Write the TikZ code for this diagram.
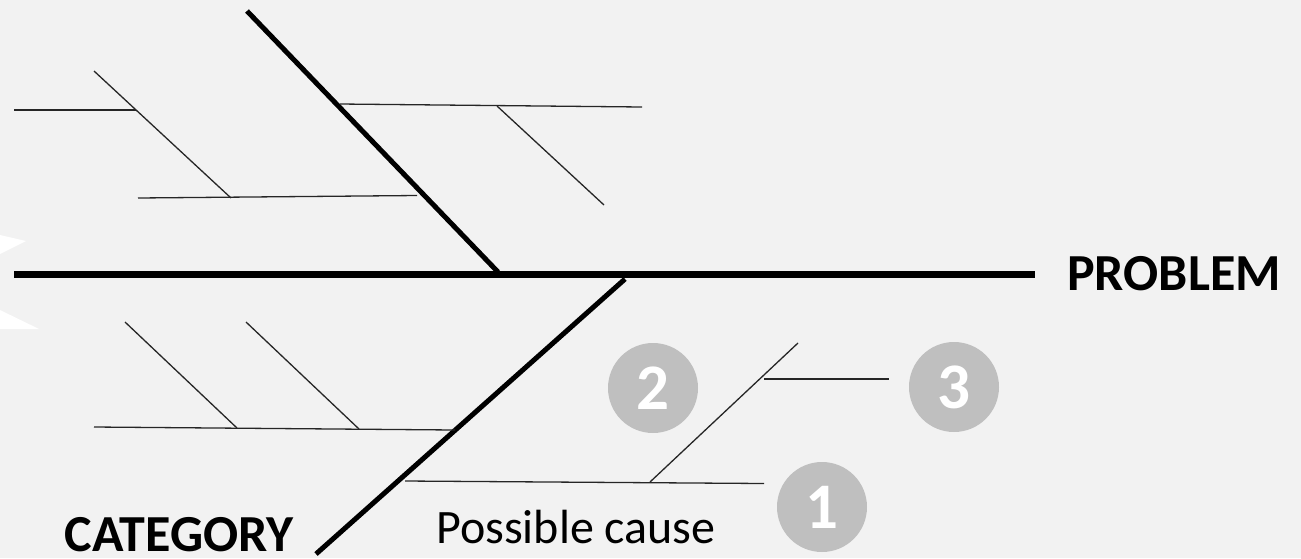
\documentclass[tikz,border=0pt]{standalone}
\usepackage{fontspec}
\setmainfont{Carlito}
\definecolor{bg}{HTML}{F2F2F2}
\definecolor{circ}{HTML}{BFBFBF}
\begin{document}
\begin{tikzpicture}[x=1pt,y=-1pt,
  spine/.style={line width=7pt},
  bone/.style={line width=5pt},
  twig/.style={line width=1.3pt, color=black!85},
  numcirc/.style={circle, fill=circ, minimum size=90pt, inner sep=0pt, text=white, font=\fontsize{65}{65}\selectfont\bfseries},
  lbl/.style={inner sep=0pt, text=black}]
\fill[bg] (0,0) rectangle (1301,558);
\useasboundingbox (0,0) rectangle (1301,558);
% white fins at left
\fill[white] (0,235) -- (26,241) -- (0,254) -- cycle;
\fill[white] (0,310) -- (39,329) -- (0,329) -- cycle;
% coordinates
\coordinate (s1) at (14,274.7);
\coordinate (s2) at (1035,274.7);
\coordinate (ua) at (247,11);
\coordinate (ub) at (498,272);
\coordinate (la) at (625,279);
\coordinate (lb) at (316,554);
% upper twigs
\coordinate (u1a) at (340,104);
\coordinate (u1b) at (642,107);
\coordinate (u1c) at (497,106);
\coordinate (u1d) at (604,205);
\coordinate (u2a) at (14,110);
\coordinate (u2b) at (136,110);
\coordinate (u3a) at (94,71);
\coordinate (u3b) at (231,198);
\coordinate (u4a) at (138,198);
\coordinate (u4b) at (417,195.5);
% lower twigs
\coordinate (l1a) at (94,427);
\coordinate (l1b) at (455,430);
\coordinate (l2a) at (125,322);
\coordinate (l2b) at (237,428);
\coordinate (l3a) at (246,322);
\coordinate (l3b) at (359,429);
\coordinate (l4a) at (405,481);
\coordinate (l4b) at (764,483.5);
\coordinate (l5a) at (650,482);
\coordinate (l5b) at (798,343);
\coordinate (l6a) at (764,379);
\coordinate (l6b) at (889,379);
% draw
\draw[spine] (s1) -- (s2);
\draw[bone] (ua) -- (ub);
\draw[bone] (la) -- (lb);
\foreach \a/\b in {u1a/u1b,u1c/u1d,u2a/u2b,u3a/u3b,u4a/u4b,l1a/l1b,l2a/l2b,l3a/l3b,l4a/l4b,l5a/l5b,l6a/l6b}
  \draw[twig] (\a) -- (\b);
% labels
\node[lbl, anchor=base west, font=\fontsize{52}{52}\selectfont\bfseries] (problem) at (1067,290) {PROBLEM};
\node[lbl, anchor=base east, font=\fontsize{52}{52}\selectfont\bfseries] (category) at (294,551.5) {CATEGORY};
\node[lbl, anchor=base west, font=\fontsize{48}{48}\selectfont] (cause) at (436,543) {Possible cause};
% numbered circles
\node[numcirc] (c2) at (653,388) {2};
\node[numcirc] (c3) at (954,387) {3};
\node[numcirc] (c1) at (822,507) {1};
\end{tikzpicture}
\end{document}
